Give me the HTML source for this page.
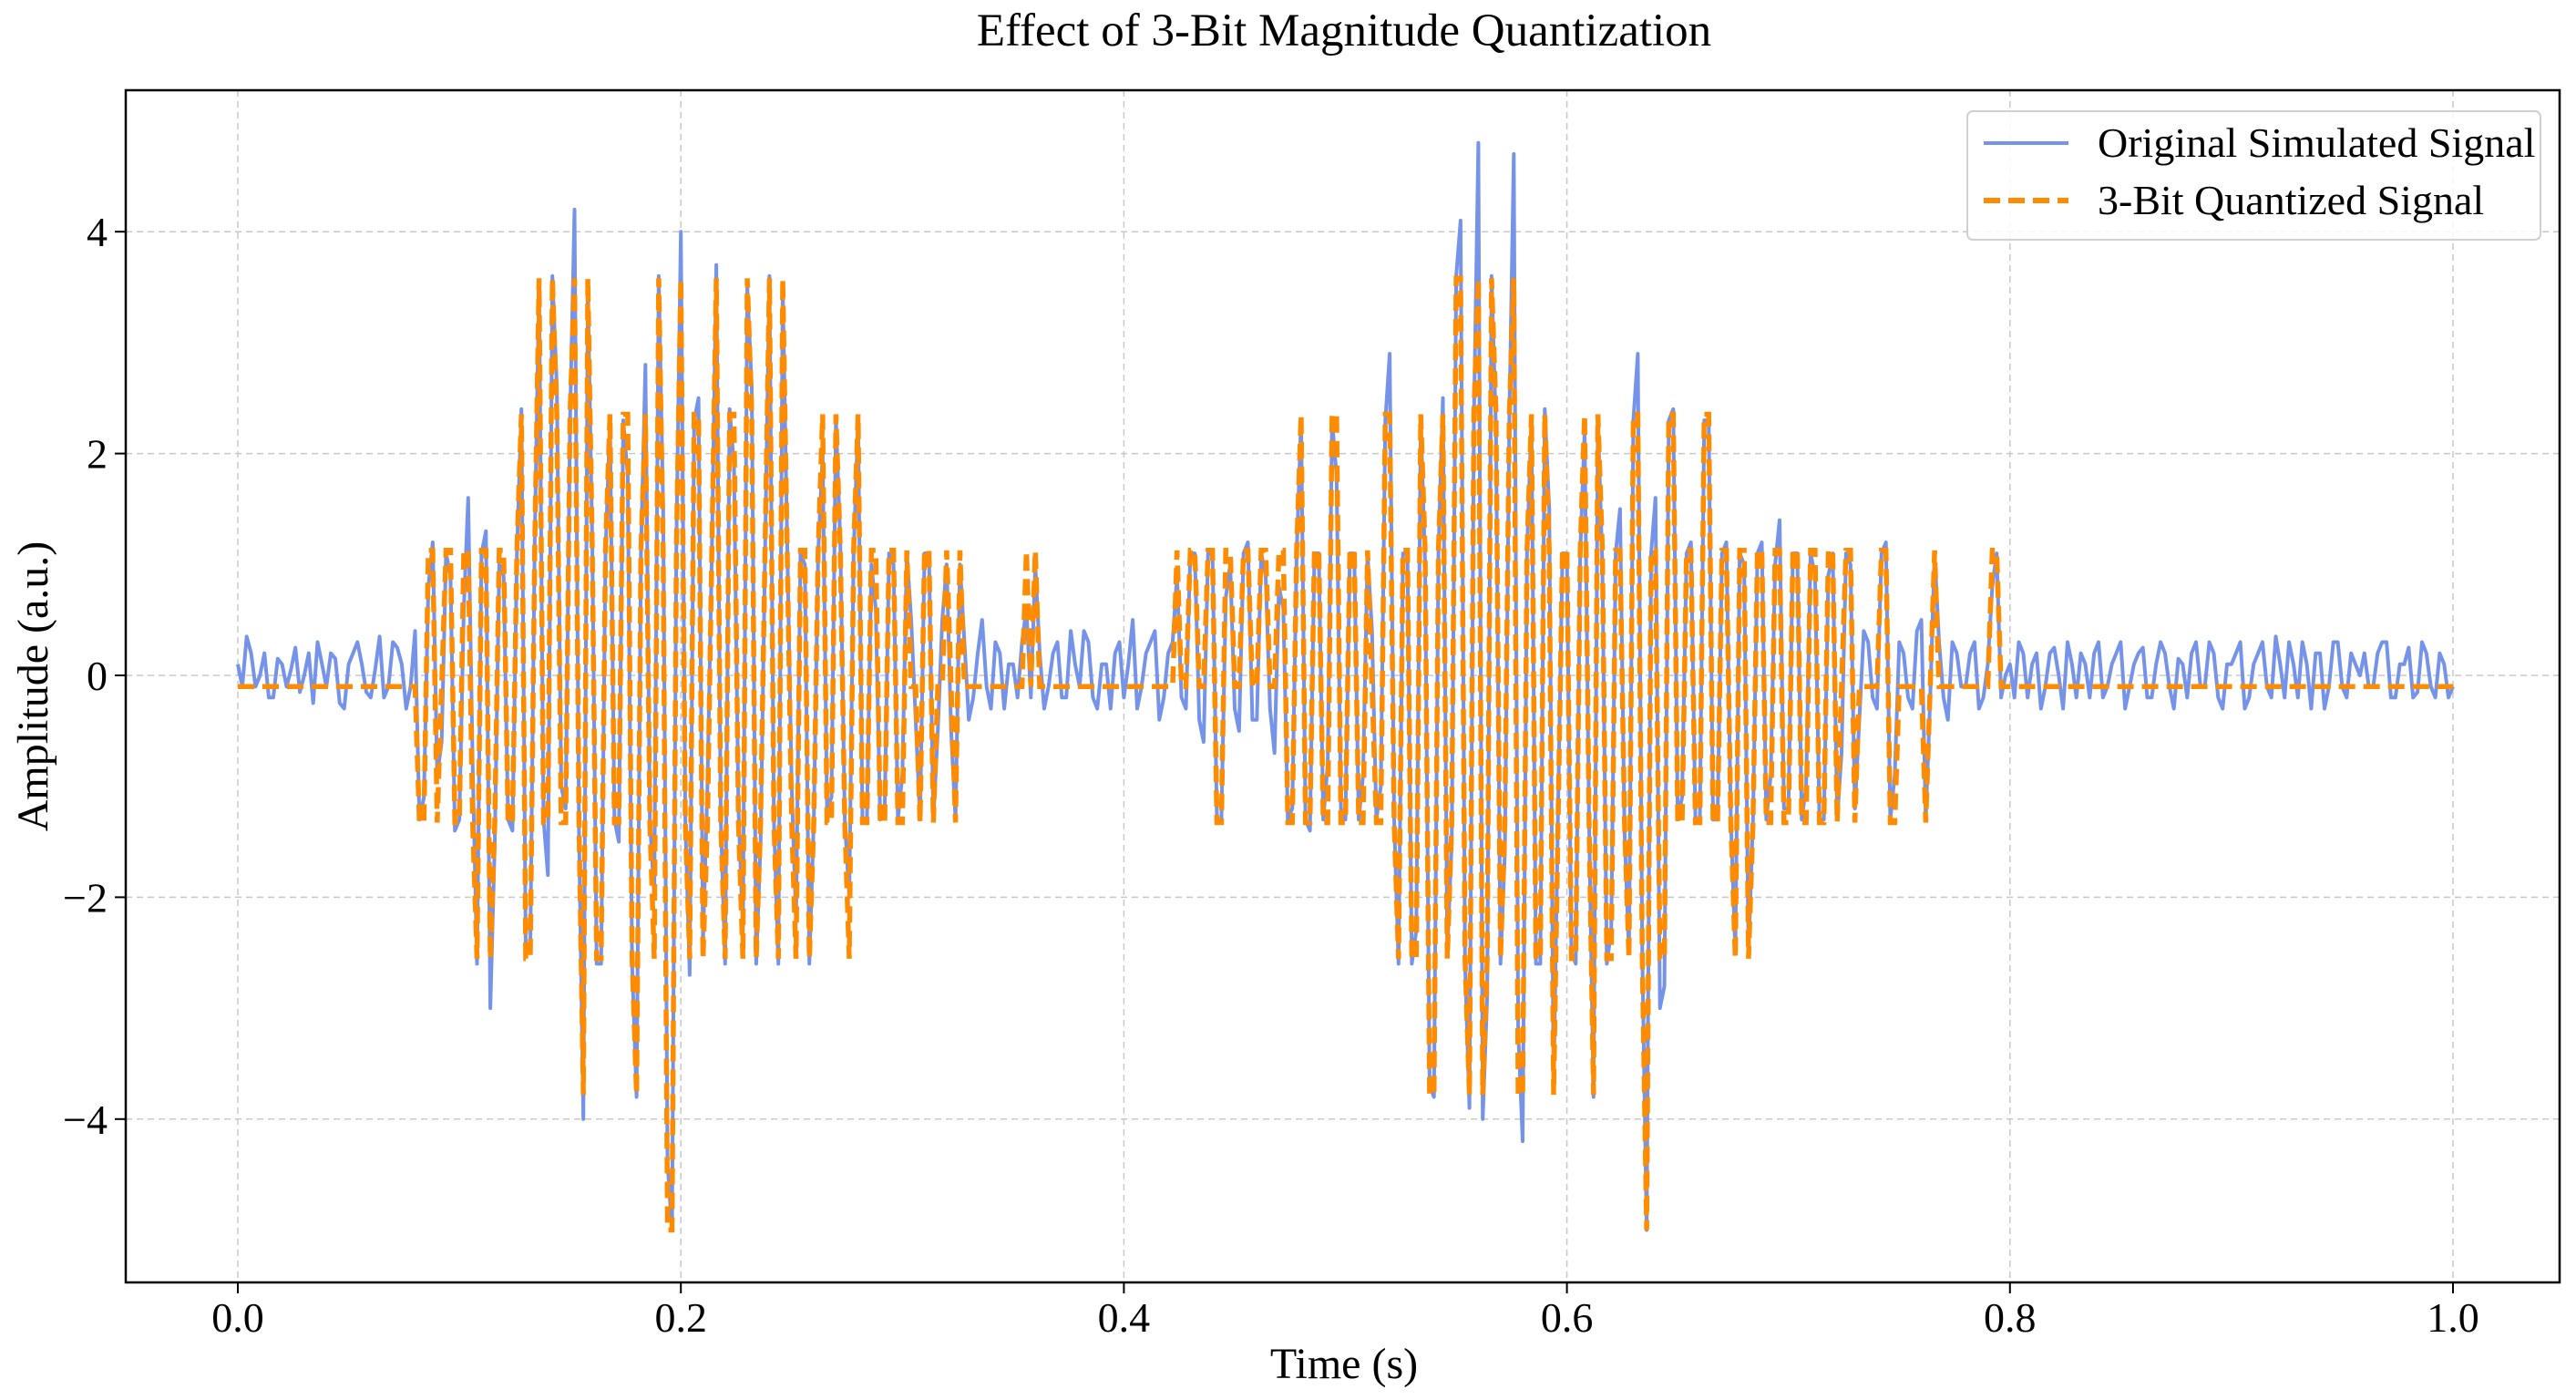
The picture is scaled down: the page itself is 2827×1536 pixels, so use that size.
<!DOCTYPE html>
<html><head><meta charset="utf-8"><style>
html,body{margin:0;padding:0;background:#fff;}
svg{display:block;font-family:"Liberation Serif",serif;}
</style></head><body>
<svg id="chart" width="2827" height="1536" viewBox="0 0 2827 1536">
<text x="1475" y="50" font-size="51" text-anchor="middle">Effect of 3-Bit Magnitude Quantization</text>
<g id="grid"></g>
<g id="series"></g>
<rect x="138" y="99" width="2671" height="1308" fill="none" stroke="#000" stroke-width="2.5"/>
<g id="ticks"></g>
<text x="1475" y="1512" font-size="48" text-anchor="middle">Time (s)</text>
<text transform="translate(52,753) rotate(-90)" font-size="48" text-anchor="middle">Amplitude (a.u.)</text>
<g>
<rect x="2159" y="122" width="629" height="141" rx="6" fill="#fff" fill-opacity="0.85" stroke="#d0d0d0" stroke-width="2"/>
<line x1="2177" y1="157" x2="2270" y2="157" stroke="#7593e8" stroke-width="4"/>
<text x="2302" y="172" font-size="46">Original Simulated Signal</text>
<line x1="2177" y1="220" x2="2270" y2="220" stroke="#ff8c00" stroke-width="6" stroke-dasharray="18,9"/>
<text x="2302" y="235" font-size="46">3-Bit Quantized Signal</text>
</g>
</svg>
<script>
const xTicks=[0.0,0.2,0.4,0.6,0.8,1.0];
const xTickLabels=["0.0","0.2","0.4","0.6","0.8","1.0"];
const yTicks=[4,2,0,-2,-4];
const yTickLabels=["4","2","0","\u22122","\u22124"];
const signal=[
0.1,0.35,-0.1,0.2,-0.2,0.1,0.05,-0.15,0.2,0.3,
-0.1,0.15,-0.3,0.2,0.1,-0.2,0.35,-0.1,0.25,-0.3,
0.4,-1.1,1.2,-0.6,0.9,-1.3,1.6,-2.6,1.3,-1.5,
0.9,-1.4,2.4,-2.5,3.5,-1.8,2.6,-1.2,4.2,-4.0,
1.2,-2.6,2.3,-1.5,1.8,-3.8,2.8,-2.0,1.5,-5.0,
4.0,-2.7,2.5,-1.0,3.7,-2.6,1.9,-2.3,2.6,-1.5,
3.6,-2.6,1.2,-2.2,1.0,-1.3,2.0,-1.1,1.2,-2.0,
2.3,-1.3,0.6,-1.2,1.0,-0.9,0.5,-1.3,1.1,-0.5,
1.0,-1.3,0.3,-0.2,0.5,-0.3,0.2,0.1,-0.2,0.6,
1.0,-0.3,0.2,-0.2,0.4,-0.1,0.3,-0.3,0.1,0.2,
-0.2,0.5,-0.1,0.3,-0.4,0.2,0.9,-0.3,1.1,-0.6,
1.1,-1.3,1.0,-0.5,1.2,-0.4,0.9,-0.7,0.6,-1.2,
2.3,-1.4,1.1,-0.8,1.8,-1.3,1.1,-0.9,0.4,-1.0,
2.9,-2.6,1.1,-2.3,1.0,-3.8,2.5,-1.5,4.1,-3.9,
4.8,-2.9,2.2,-1.6,4.7,-4.2,2.3,-2.6,1.5,-1.2,
1.1,-2.6,2.2,-3.8,1.0,-2.3,1.5,-2.5,2.9,-5.0,
1.6,-2.8,2.4,-1.1,1.2,-1.3,2.3,-1.3,1.2,-2.5,
1.0,-1.3,1.2,-0.9,1.4,-1.2,1.1,-1.0,0.9,-1.3,
1.1,-0.7,1.0,-0.4,0.3,-0.3,1.2,-0.9,0.2,-0.3,
0.5,-0.2,0.3,-0.4,0.2,-0.1,0.3,-0.2,0.8,-0.2,
0.1,0.3,-0.2,0.2,-0.1,0.25,-0.3,0.1,0.2,-0.2,
0.3,-0.1,0.2,-0.3,0.1,0.25,-0.2,0.3,-0.1,0.15,
-0.2,0.3,-0.1,0.2,-0.3,0.1,0.3,-0.2,0.2,-0.1,
0.35,-0.2,0.1,0.3,-0.3,0.2,-0.1,0.3,-0.2,0.1,
0.2,-0.1,0.3,-0.2,0.1,0.25,-0.15,0.2,-0.2,0.1,-0.1];
const signalMid=[
-0.1,0.2,0.0,-0.2,0.15,-0.1,0.25,0.0,-0.25,0.1,
0.2,-0.25,0.1,0.3,-0.15,0.05,-0.2,0.3,0.1,-0.1,
-1.3,0.8,-0.9,1.1,-1.4,0.6,-0.8,1.1,-3.0,1.0,
-1.3,1.1,-2.5,1.2,-1.3,3.6,-1.0,2.3,-1.4,3.5,
-2.6,1.1,-1.3,2.3,-2.6,1.1,-1.3,3.6,-4.4,1.2,
-1.3,2.3,-2.4,1.1,-1.3,2.4,-1.2,3.5,-2.6,1.1,
-1.3,3.5,-1.0,1.1,-2.6,1.1,-1.2,2.3,-1.3,1.1,
-1.3,1.0,-1.3,1.1,-1.3,1.1,-0.4,1.1,-1.3,0.5,
-0.5,1.0,-0.4,0.2,-0.1,0.3,-0.3,0.1,0.3,-0.2,
0.2,-0.1,0.3,-0.2,0.1,0.4,-0.2,0.1,-0.3,0.3,
0.1,-0.3,0.2,0.4,-0.2,0.3,-0.2,1.1,-0.4,1.1,
-1.3,0.7,-0.3,1.1,-0.4,1.1,-0.3,0.8,-1.3,1.1,
-1.3,1.1,-1.3,2.3,-1.2,1.1,-1.3,1.1,-1.3,2.3,
-1.3,1.1,-2.6,2.3,-3.7,1.1,-2.5,3.6,-2.6,2.3,
-4.0,3.6,-2.6,2.3,-3.2,1.1,-2.6,2.4,-3.7,1.1,
-2.5,1.1,-1.3,2.3,-2.6,1.1,-1.4,2.3,-2.5,1.1,
-3.0,2.3,-1.3,1.1,-1.3,2.3,-1.3,1.1,-1.3,1.1,
-2.5,1.1,-1.3,1.0,-1.2,1.1,-1.3,1.1,-1.3,0.9,
-1.3,1.1,-1.2,0.4,-0.2,1.1,-1.3,0.3,-0.2,0.4,
-1.3,1.1,-0.2,0.3,-0.1,0.2,-0.3,0.1,1.1,0.0,
-0.2,0.2,0.1,-0.3,0.2,0.0,0.3,-0.2,0.1,0.2,
-0.2,0.1,0.3,-0.1,0.2,-0.2,0.1,0.2,-0.3,0.1,
0.2,-0.1,0.3,-0.2,0.1,0.2,-0.3,0.1,0.3,-0.2,
0.1,0.3,-0.2,0.1,0.2,-0.3,0.3,-0.1,0.2,0.0,
-0.1,0.2,0.3,-0.2,0.1,-0.2,0.3,-0.1,0.2,-0.2];
const qStep=1.227, qOffset=-0.1, qMin=-5.0, qMax=3.58;
const NS="http://www.w3.org/2000/svg";
const X0=261,X1=2692,Y0=741,YU=121.7;
function xs(t){return X0+(X1-X0)*t;}
function ys(v){return Y0-v*YU;}
function quant(v){let q=Math.round((v-qOffset)/qStep)*qStep+qOffset;return Math.max(qMin,Math.min(qMax,q));}
function mk(tag,attrs,parent){const e=document.createElementNS(NS,tag);for(const k in attrs)e.setAttribute(k,attrs[k]);parent.appendChild(e);return e;}
const grid=document.getElementById('grid'),ticks=document.getElementById('ticks'),series=document.getElementById('series');
xTicks.forEach((t,i)=>{
 const g=mk('line',{x1:xs(t),x2:xs(t),y1:99,y2:1407,stroke:'#c8c8c8','stroke-width':1.5,'stroke-dasharray':'7,5'},grid);
 
 
 const tk=mk('line',{x1:xs(t),x2:xs(t),y1:1407,y2:1419,stroke:'#000','stroke-width':2},ticks);
 
 
 const tx=mk('text',{x:xs(t),y:1461,'font-size':46,'text-anchor':'middle'},ticks);
 tx.textContent=xTickLabels[i];
 
 
});
yTicks.forEach((v,i)=>{
 const g=mk('line',{x1:138,x2:2809,y1:ys(v),y2:ys(v),stroke:'#c8c8c8','stroke-width':1.5,'stroke-dasharray':'7,5'},grid);
 
 
 const tk=mk('line',{x1:126,x2:138,y1:ys(v),y2:ys(v),stroke:'#000','stroke-width':2},ticks);
 
 
 const tx=mk('text',{x:118,y:ys(v)+16,'font-size':46,'text-anchor':'end'},ticks);
 tx.textContent=yTickLabels[i];
 
 
});
const n=signal.length;
const pts=[];
for(let i=0;i<n;i++){
 pts.push([i/(n-1),signal[i]]);
 if(i<signalMid.length) pts.push([(i+0.5)/(n-1),signalMid[i]]);
}
const pO=pts.map(p=>xs(p[0]).toFixed(1)+','+ys(p[1]).toFixed(1)).join(' ');
const pQ=pts.map(p=>xs(p[0]).toFixed(1)+','+ys(quant(p[1])).toFixed(1)).join(' ');
const lo=mk('polyline',{points:pO,fill:'none',stroke:'#7593e8','stroke-width':4,'stroke-linejoin':'round'},series);


const lq=mk('polyline',{points:pQ,fill:'none',stroke:'#ff8c00','stroke-width':5.5,'stroke-dasharray':'18,9'},series);


</script>
</body></html>
